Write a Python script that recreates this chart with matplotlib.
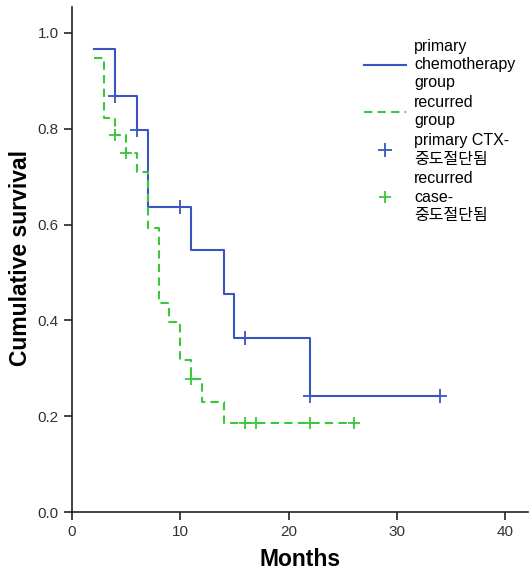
import numpy as np
import matplotlib
matplotlib.use("Agg")
import matplotlib.pyplot as plt
from matplotlib.lines import Line2D

plt.rcParams['font.family'] = ['Liberation Sans', 'Noto Sans CJK KR', 'DejaVu Sans']

# Kaplan-Meier steps
blue_t = [2, 4, 6, 7, 11, 14, 15, 22, 34]
blue_s = [0.967, 0.868, 0.797, 0.636, 0.547, 0.456, 0.364, 0.243, 0.243]
blue_cens = [4, 6, 10, 16, 22, 34]

green_t = [2, 3, 4, 5, 6, 7, 8, 9, 10, 11, 12, 14, 26]
green_s = [0.947, 0.822, 0.787, 0.750, 0.710, 0.592, 0.436, 0.396, 0.317, 0.278, 0.230, 0.185, 0.185]
green_cens = [4, 5, 11, 16, 17, 22, 26]

labels = ["primary\nchemotherapy\ngroup", "recurred\ngroup",
          "primary CTX-\n중도절단됨", "recurred\ncase-\n중도절단됨"]
x_ticks = [0, 10, 20, 30, 40]
y_ticks = [0.0, 0.2, 0.4, 0.6, 0.8, 1.0]

blue = '#3a55c0'
green = '#3cc63c'

fig = plt.figure(figsize=(5.29, 5.71), dpi=100)
ax = fig.add_axes([72/529, 59/571, (528-72)/529, (512-7)/571])

def surv_at(ts, ss, c):
    i = np.searchsorted(ts, c, side='right') - 1
    return ss[i]

ax.step(blue_t, blue_s, where='post', color=blue, lw=1.5)
ax.step(green_t, green_s, where='post', color=green, lw=1.5, linestyle=(0, (4, 2.5)))
ax.plot(blue_cens, [surv_at(blue_t, blue_s, c) for c in blue_cens], '+', color=blue,
        ms=10, mew=1.3, linestyle='none')
ax.plot(green_cens, [surv_at(green_t, green_s, c) for c in green_cens], '+', color=green,
        ms=9, mew=1.3, linestyle='none')

ax.set_xlim(0, 42.1)
ax.set_ylim(0, 1.054)
ax.set_xticks(x_ticks)
ax.set_yticks(y_ticks)
ax.set_yticklabels([f"{v:.1f}" for v in y_ticks])
for s in ['top', 'right']:
    ax.spines[s].set_visible(False)
for s in ['left', 'bottom']:
    ax.spines[s].set_color('#222222')
    ax.spines[s].set_linewidth(1.2)
ax.tick_params(direction='out', length=6, width=1.2, colors='#222222', labelsize=11,
               labelcolor='#333333')
ax.set_xlabel("Months", fontsize=16.5, fontweight='bold', labelpad=6)
ax.set_ylabel("Cumulative survival", fontsize=16.5, fontweight='bold')
ax.yaxis.set_label_coords(-0.088, 0.503)

handles = [Line2D([], [], color=blue, lw=1.5),
           Line2D([], [], color=green, lw=1.5, linestyle=(0, (4, 2.5))),
           Line2D([], [], color=blue, marker='+', ms=10, mew=1.3, linestyle='none'),
           Line2D([], [], color=green, marker='+', ms=9, mew=1.3, linestyle='none')]
leg = ax.legend(handles, labels, loc='upper left', bbox_to_anchor=(356/529, 1 - 31/571),
                bbox_transform=fig.transFigure, frameon=False, fontsize=11.5,
                handlelength=2.6, handletextpad=0.55, labelspacing=0.3, borderpad=0)
for t in leg.get_texts():
    t.set_linespacing(1.27)

fig.savefig("out.png", dpi=100)
